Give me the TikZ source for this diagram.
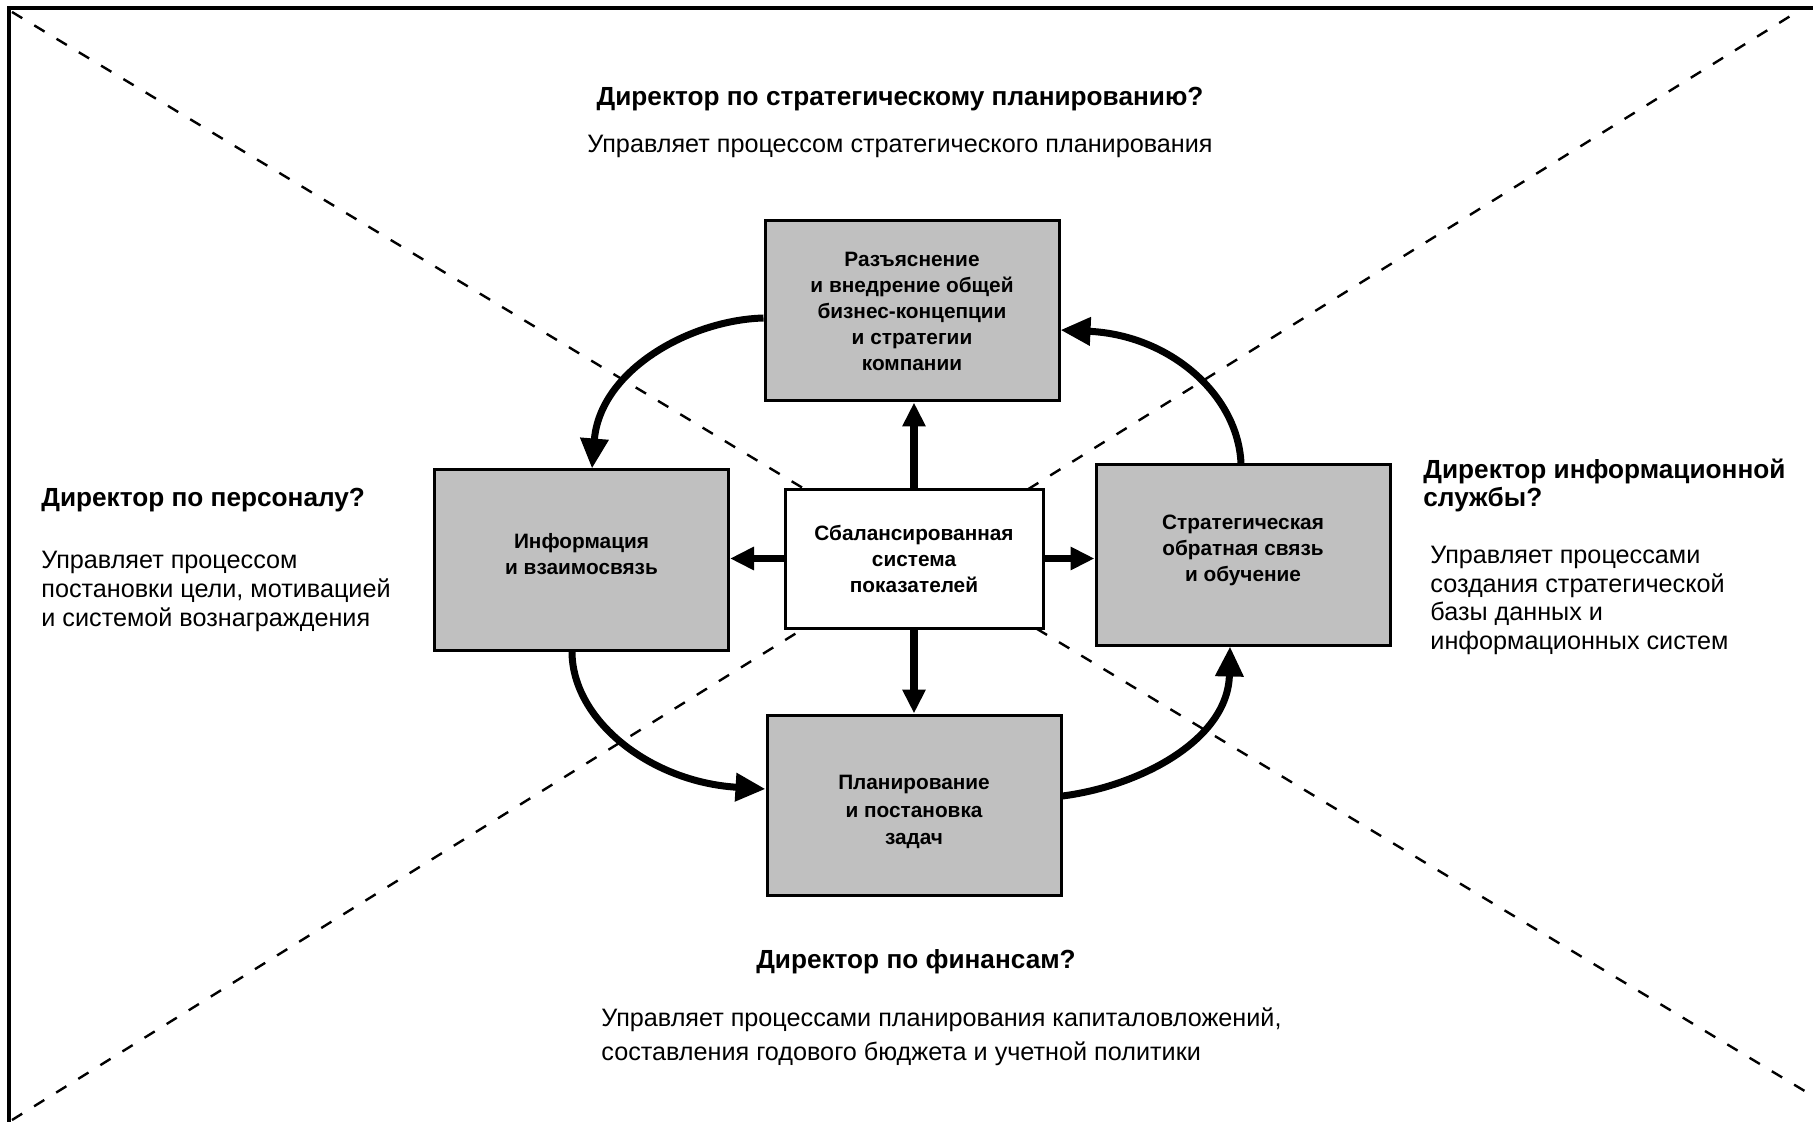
\documentclass[tikz,border=0pt]{standalone}
\usepackage{fontspec}
\setmainfont{Liberation Sans}
\usetikzlibrary{arrows.meta,calc}
\definecolor{boxgray}{HTML}{C0C0C0}
\begin{document}
\begin{tikzpicture}[x=0.5pt,y=-0.5pt,
  box/.style={draw, line width=1.5pt, fill=boxgray, minimum width=147pt, minimum height=90pt,
    align=center, inner sep=0pt, font=\fontsize{10.4}{13}\selectfont\bfseries},
  cbox/.style={box, fill=white, minimum width=129pt, minimum height=69.5pt},
  boxtext/.style={align=center, inner sep=0pt, font=\fontsize{10.4}{13}\selectfont\bfseries},
  head/.style={inner sep=0pt, font=\fontsize{13.1}{14}\selectfont\bfseries},
  desc/.style={inner sep=0pt, font=\fontsize{12.6}{14.5}\selectfont},
  diag/.style={line width=1.2pt, dash pattern=on 6pt off 7pt},
  frameline/.style={line width=1.6pt},
  sarrow/.style={line width=3.8pt, -{Triangle[length=12pt,width=11pt]}},
  carrow/.style={line width=3.5pt, -{Triangle[length=15pt,width=13.5pt]}}
]
\useasboundingbox (0,0) rectangle (1813,1122);
\fill[white] (0,0) rectangle (1813,1122);
% frame
\coordinate (fbl) at (9,1122);
\coordinate (ftl) at (9,8);
\coordinate (ftr) at (1813,8);
\draw[frameline] (fbl) -- (ftl) -- (ftr);
% diagonals
\coordinate (d1a) at (12,12);
\coordinate (d1b) at (1813,1096);
\coordinate (d2a) at (12,1120);
\coordinate (d2b) at (1800,10);
\draw[diag] (d1a) -- (d1b);
\draw[diag] (d2a) -- (d2b);
% boxes
\node[box] (tb) at (912,311) {Разъяснение\\и внедрение общей\\бизнес-концепции\\и стратегии\\компании};
\node[box] (lb) at (581.5,560) {};
\node[boxtext] (lbt) at ($(lb)+(0,-6)$) {Информация\\и взаимосвязь};
\node[cbox] (cb) at (914,558.5) {Сбалансированная\\система\\показателей};
\node[box] (rb) at (1243,555) {};
\node[boxtext] (rbt) at ($(rb)+(0,-5)$) {Стратегическая\\обратная связь\\и обучение};
\node[box] (bb) at (914,805) {};
\node[boxtext, font=\fontsize{10.4}{13.7}\selectfont\bfseries] (bbt) at ($(bb)+(0,7)$) {Планирование\\и постановка\\задач};
% texts
\node[head] (h1) at (900,99.5) {Директор по стратегическому планированию?};
\node[desc] (t1) at (900,146.5) {Управляет процессом стратегического планирования};
\node[head, anchor=west] (h2) at (41,500) {Директор по персоналу?};
\node[desc, anchor=west, align=left] (t2) at (41,591.5) {Управляет процессом\\постановки цели, мотивацией\\и системой вознаграждения};
\node[head, anchor=west, align=left] (h3) at (1423,485) {Директор информационной\\службы?};
\node[desc, anchor=west, align=left, font=\fontsize{12.6}{14.3}\selectfont] (t3) at (1430,600.5) {Управляет процессами\\создания стратегической\\базы данных и\\информационных систем};
\node[head] (h4) at (916,961.5) {Директор по финансам?};
\node[desc, anchor=west, align=left, font=\fontsize{12.6}{17}\selectfont] (t4) at (601,1036.5) {Управляет процессами планирования капиталовложений,\\составления годового бюджета и учетной политики};
% straight arrows
\draw[sarrow] (cb.north) -- (cb.north |- tb.south);
\draw[sarrow] (cb.west) -- (cb.west -| lb.east);
\draw[sarrow] (cb.east) -- (cb.east -| rb.west);
\draw[sarrow] (cb.south) -- (cb.south |- bb.north);
% curved arrows
\draw[carrow] ($(tb.west)+(0,7)$) .. controls (690,320) and (600,370) .. ($(lb.north)+(10.5,0)$);
\draw[carrow] ($(lb.south)+(-9.5,0)$) .. controls (572,720) and (650,782) .. ($(bb.west)+(0,-16)$);
\draw[carrow] ($(bb.east)+(0,-9)$) .. controls (1140,786) and (1228,740) .. ($(rb.south)+(-13,0)$);
\draw[carrow] ($(rb.north)+(-2,0)$) .. controls (1238,395) and (1170,335) .. ($(tb.east)+(0,19)$);
\end{tikzpicture}
\end{document}
